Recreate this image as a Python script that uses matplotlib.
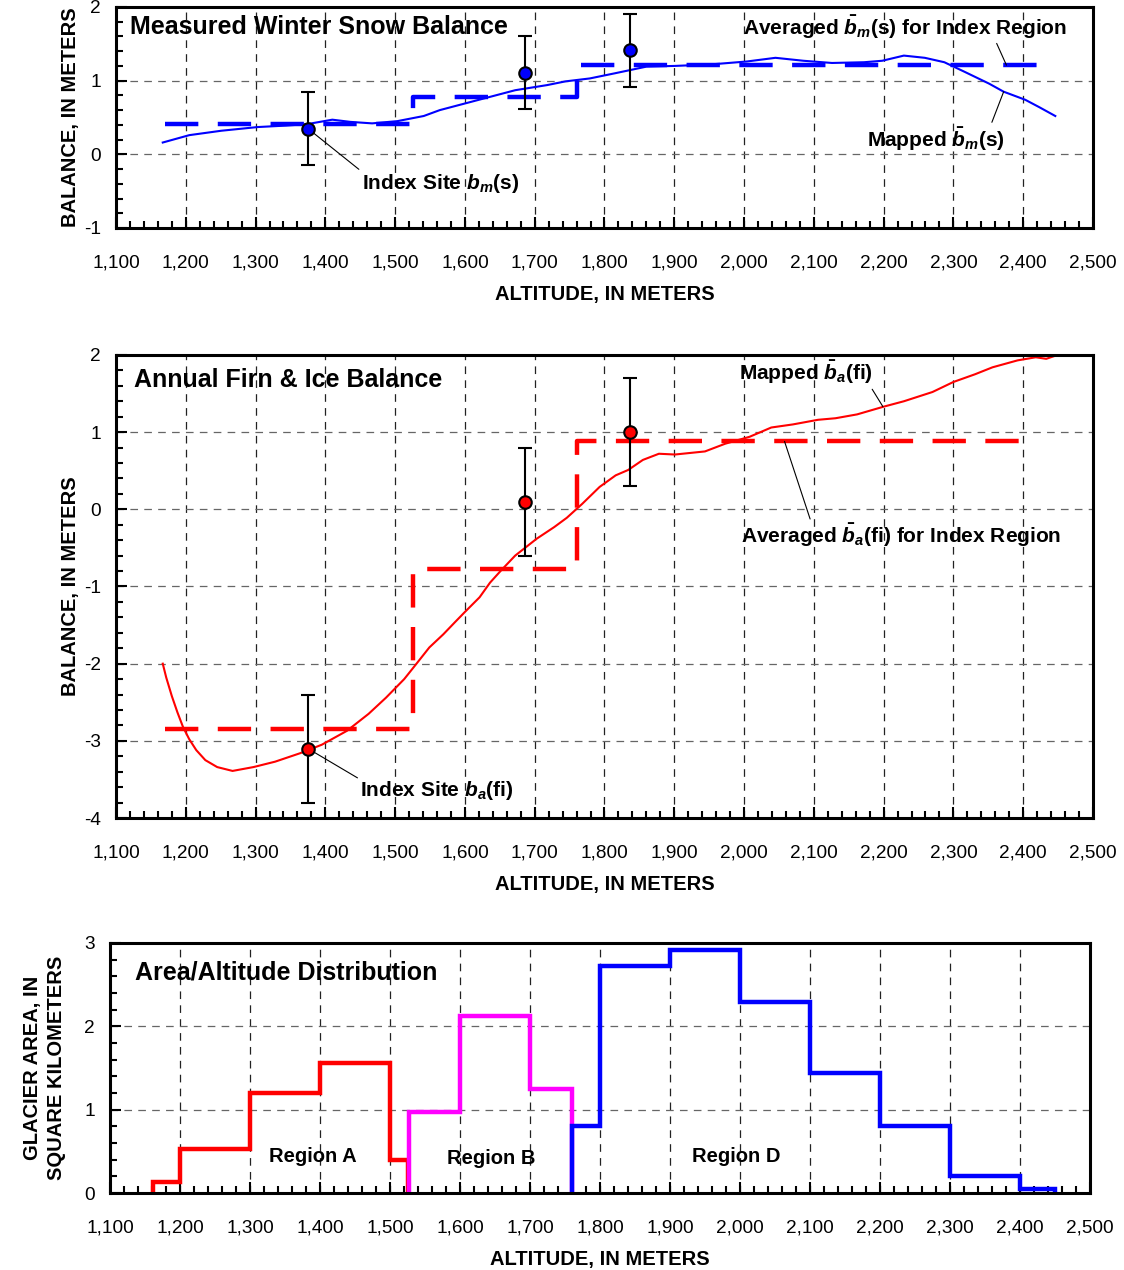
import numpy as np
import matplotlib
matplotlib.use("Agg")
import matplotlib.pyplot as plt
from matplotlib.ticker import MultipleLocator, FuncFormatter

plt.rcParams["font.family"] = ["Liberation Sans", "DejaVu Sans"]
plt.rcParams["mathtext.fontset"] = "custom"
plt.rcParams["mathtext.it"] = "Liberation Sans:italic:bold"
plt.rcParams["mathtext.rm"] = "Liberation Sans:bold"
plt.rcParams["mathtext.bf"] = "Liberation Sans:bold"
plt.rcParams["lines.scale_dashes"] = False
plt.rcParams["axes.unicode_minus"] = False

# ---- winter snow balance (top) ----
snow_alt = [1167, 1205, 1251, 1303, 1344, 1374, 1410, 1436, 1467, 1503, 1541, 1564, 1600,
            1636, 1672, 1718, 1744, 1779, 1815, 1860, 1901, 1952, 2004, 2045, 2085, 2126,
            2172, 2198, 2229, 2259, 2287, 2316, 2351, 2372, 2403, 2423, 2446]
snow_bal = [0.16, 0.26, 0.32, 0.37, 0.39, 0.41, 0.47, 0.44, 0.42, 0.45, 0.52, 0.60, 0.69,
            0.78, 0.87, 0.94, 0.99, 1.03, 1.10, 1.19, 1.20, 1.22, 1.26, 1.31, 1.27, 1.24,
            1.25, 1.27, 1.34, 1.31, 1.25, 1.12, 0.96, 0.85, 0.74, 0.64, 0.52]
snow_avg_edges = [1170, 1526, 1761, 2435]
snow_avg_vals = [0.41, 0.78, 1.21]
snow_site_alt = [1375, 1686, 1837]
snow_site_bal = [0.35, 1.11, 1.41]
snow_site_err = [0.5, 0.5, 0.5]

# ---- annual firn & ice balance (middle) ----
fi_alt = [1167, 1172, 1180, 1188, 1196, 1205, 1215, 1228, 1245, 1267, 1297, 1328, 1364,
          1395, 1431, 1462, 1487, 1513, 1528, 1549, 1569, 1586, 1600, 1621, 1636, 1651,
          1672, 1703, 1728, 1746, 1768, 1793, 1816, 1834, 1855, 1878, 1901, 1944, 1973,
          2008, 2039, 2070, 2106, 2131, 2162, 2200, 2229, 2270, 2300, 2331, 2356, 2392,
          2418, 2433, 2446]
fi_bal = [-2.00, -2.18, -2.42, -2.63, -2.82, -2.98, -3.12, -3.25, -3.34, -3.39, -3.34,
          -3.27, -3.16, -3.05, -2.87, -2.65, -2.44, -2.20, -2.03, -1.79, -1.62, -1.46,
          -1.33, -1.14, -0.95, -0.80, -0.60, -0.38, -0.23, -0.11, 0.07, 0.29, 0.44,
          0.51, 0.64, 0.72, 0.71, 0.75, 0.85, 0.94, 1.06, 1.10, 1.16, 1.18, 1.23, 1.33,
          1.40, 1.52, 1.65, 1.75, 1.84, 1.93, 1.97, 1.95, 1.99]
fi_avg_edges = [1170, 1526, 1761, 2415]
fi_avg_vals = [-2.85, -0.77, 0.88]
fi_site_alt = [1375, 1686, 1837]
fi_site_bal = [-3.1, 0.1, 1.0]
fi_site_err = [0.7, 0.7, 0.7]

# ---- area / altitude distribution (bottom) ----
regA_edges = [1161, 1200, 1300, 1400, 1500, 1526]
regA_area = [0.13, 0.53, 1.20, 1.56, 0.40]
regB_edges = [1527, 1600, 1700, 1760]
regB_area = [0.97, 2.12, 1.25]
regD_edges = [1760, 1800, 1900, 2000, 2100, 2200, 2300, 2400, 2450]
regD_area = [0.80, 2.72, 2.92, 2.29, 1.44, 0.80, 0.20, 0.05]

TICK_FS = 13.7
LAB_FS = 14.5
ANN_FS = 15
TITLE_FS = 18


def style_axes(ax, ylim, ylab, ylab_pad=2.5):
    ax.set_xlim(1100, 2500)
    ax.set_ylim(*ylim)
    ax.xaxis.set_major_locator(MultipleLocator(100))
    ax.xaxis.set_minor_locator(MultipleLocator(20))
    ax.yaxis.set_major_locator(MultipleLocator(1))
    ax.yaxis.set_minor_locator(MultipleLocator(0.2))
    ax.xaxis.set_major_formatter(FuncFormatter(lambda v, p: f"{v:,.0f}"))
    ax.tick_params(which="both", direction="in", top=False, right=False, width=1.5)
    ax.tick_params(which="major", length=8)
    ax.tick_params(which="minor", length=5)
    ax.tick_params(axis="x", which="major", labelsize=TICK_FS, pad=19)
    ax.tick_params(axis="y", which="major", labelsize=TICK_FS, pad=11)
    ax.grid(True, axis="x", color="#222222", lw=0.9, ls=(0, (5.5, 4.5)))
    ax.grid(True, axis="y", color="#666666", lw=0.9, ls=(0, (5.5, 4.5)))
    for s in ax.spines.values():
        s.set_linewidth(2.2)
        s.set_zorder(5)
    ax.set_xlabel("ALTITUDE, IN METERS", fontsize=LAB_FS, fontweight="bold", labelpad=10)
    ax.set_ylabel(ylab, fontsize=LAB_FS, fontweight="bold", labelpad=ylab_pad,
                  linespacing=1.35)


def step_xy(edges, vals):
    x = np.repeat(edges, 2)[1:-1]
    y = np.repeat(vals, 2)
    return x, y


fig = plt.figure(figsize=(11.24, 12.70), dpi=100)
ax1 = fig.add_axes([0.1032, 0.8205, 0.8692, 0.1740])
ax2 = fig.add_axes([0.1032, 0.3559, 0.8692, 0.3646])
ax3 = fig.add_axes([0.0979, 0.0606, 0.8719, 0.1969])

# top panel
style_axes(ax1, (-1, 2), "BALANCE, IN METERS")
ax1.plot(snow_alt, snow_bal, color="#0000ff", lw=1.5, zorder=3)
sx, sy = step_xy(snow_avg_edges, snow_avg_vals)
ax1.plot(sx, sy, color="#0000ff", lw=3.2, ls=(0, (24, 14)), zorder=3)
ax1.errorbar(snow_site_alt, snow_site_bal, yerr=snow_site_err, fmt="o", color="black",
             mfc="#0000ff", mec="black", ms=9, mew=1.5, elinewidth=1.5, capsize=5,
             capthick=1.5, zorder=4)
ax1.text(0.0143, 0.91, "Measured Winter Snow Balance", transform=ax1.transAxes,
         fontsize=TITLE_FS, fontweight="bold", ha="left", va="center")
leader = dict(arrowstyle="-", lw=0.8, color="black", shrinkA=0, shrinkB=0)
ax1.annotate(r"Index Site $b_m$(s)", xy=(snow_site_alt[0], snow_site_bal[0]),
             xytext=(1452, -0.39), fontsize=ANN_FS, fontweight="bold", ha="left", va="center",
             arrowprops=dict(leader, relpos=(0, 1)))
ax1.annotate(r"Averaged $\bar{b}_m$(s) for Index Region", xy=(2376, 1.21),
             xytext=(1998, 1.73), fontsize=ANN_FS, fontweight="bold", ha="left", va="center",
             arrowprops=dict(leader, relpos=(0.78, 0)))
ax1.annotate(r"Mapped $\bar{b}_m$(s)", xy=(2372, 0.85),
             xytext=(2176, 0.21), fontsize=ANN_FS, fontweight="bold", ha="left", va="center",
             arrowprops=dict(leader, relpos=(0.9, 1)))

# middle panel
style_axes(ax2, (-4, 2), "BALANCE, IN METERS")
ax2.plot(fi_alt, fi_bal, color="#ff0000", lw=1.5, zorder=3)
fx, fy = step_xy(fi_avg_edges, fi_avg_vals)
ax2.plot(fx, fy, color="#ff0000", lw=3.2, ls=(0, (24, 14)), zorder=3)
ax2.errorbar(fi_site_alt, fi_site_bal, yerr=fi_site_err, fmt="o", color="black",
             mfc="#ff0000", mec="black", ms=9, mew=1.5, elinewidth=1.5, capsize=5,
             capthick=1.5, zorder=4)
ax2.text(0.018, 0.946, "Annual Firn & Ice Balance", transform=ax2.transAxes,
         fontsize=TITLE_FS, fontweight="bold", ha="left", va="center")
ax2.annotate(r"Mapped $\bar{b}_a$(fi)", xy=(2199, 1.33),
             xytext=(1993, 1.77), fontsize=ANN_FS, fontweight="bold", ha="left", va="center",
             arrowprops=dict(leader, relpos=(0.98, 0)))
ax2.annotate(r"Averaged $\bar{b}_a$(fi) for Index Region", xy=(2058, 0.88),
             xytext=(1995, -0.34), fontsize=ANN_FS, fontweight="bold", ha="left", va="center",
             arrowprops=dict(leader, relpos=(0.22, 1)))
ax2.annotate(r"Index Site $b_a$(fi)", xy=(fi_site_alt[0], fi_site_bal[0]),
             xytext=(1450, -3.65), fontsize=ANN_FS, fontweight="bold", ha="left", va="center",
             arrowprops=dict(leader, relpos=(0, 1)))

# bottom panel
style_axes(ax3, (0, 3), "GLACIER AREA, IN\nSQUARE KILOMETERS", ylab_pad=13)
ax3.stairs(regA_area, regA_edges, baseline=0, color="#ff0000", lw=3.2, zorder=3)
ax3.stairs(regB_area, regB_edges, baseline=0, color="#ff00ff", lw=3.2, zorder=3)
ax3.stairs(regD_area, regD_edges, baseline=0, color="#0000ff", lw=3.2, zorder=3)
ax3.text(0.0255, 0.88, "Area/Altitude Distribution", transform=ax3.transAxes,
         fontsize=TITLE_FS, fontweight="bold", ha="left", va="center")
ax3.text(1389, 0.44, "Region A", fontsize=LAB_FS, fontweight="bold", ha="center", va="center")
ax3.text(1644, 0.41, "Region B", fontsize=LAB_FS, fontweight="bold", ha="center", va="center")
ax3.text(1994, 0.44, "Region D", fontsize=LAB_FS, fontweight="bold", ha="center", va="center")

fig.savefig("out.png", dpi=100)
